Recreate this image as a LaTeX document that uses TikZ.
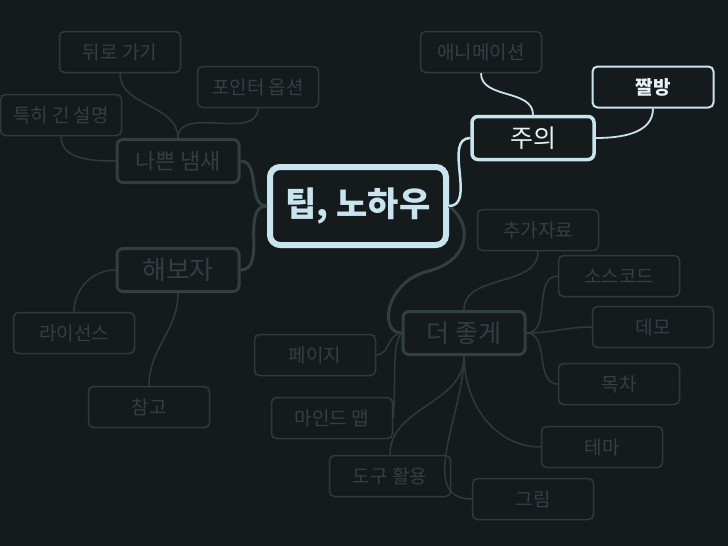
\documentclass[tikz,border=0pt]{standalone}
\usepackage{fontspec}
\setmainfont{Noto Sans CJK KR}
\usepackage{xcolor}
\usetikzlibrary{calc}
\definecolor{mapBg}{RGB}{21,27,28}
\definecolor{mapGray}{RGB}{46,59,61}
\definecolor{mapGrayText}{RGB}{50,64,67}
\definecolor{mapTopic}{RGB}{49,63,66}
\definecolor{mapBlue}{RGB}{200,228,238}
\definecolor{mapWhite}{RGB}{232,240,243}

\begin{document}
\begin{tikzpicture}[x=1pt, y=-1pt,
    leafbox/.style={draw=mapGray, line width=1.5pt, rounded corners=5pt, fill=mapBg, text=mapGrayText,
        minimum width=121pt, minimum height=41pt, inner sep=0pt, font=\fontsize{19}{22}\selectfont},
    topicbox/.style={draw=mapTopic, line width=3pt, rounded corners=6pt, fill=mapBg, text=mapTopic,
        minimum width=122pt, minimum height=43pt, inner sep=0pt, font=\fontsize{25}{29}\selectfont},
    hotbox/.style={topicbox, draw=mapBlue, line width=3.5pt, text=mapWhite},
    hotleaf/.style={leafbox, draw=mapBlue, line width=2pt, text=mapWhite, font=\fontsize{19}{22}\selectfont\bfseries},
    rootbox/.style={draw=mapBlue, line width=6pt, rounded corners=10pt, fill=mapBg, text=mapBlue,
        minimum width=176pt, minimum height=78pt, inner sep=0pt, font=\fontsize{34}{40}\selectfont\bfseries},
    leafline/.style={draw=mapGray, line width=1.5pt},
    topicline/.style={draw=mapTopic, line width=3pt},
    hotline/.style={draw=mapBlue, line width=2.5pt}]
    \fill[mapBg] (0,0) rectangle (728,546);
    \useasboundingbox (0,0) rectangle (728,546);

    \node[rootbox] (root) at (358,206) {팁, 노하우};

    \node[topicbox] (bad) at (178,161) {\fontsize{22}{26}\selectfont 나쁜 냄새};
    \node[leafbox] (back) at (120,52) {뒤로 가기};
    \node[leafbox] (pointer) at (258,87) {포인터 옵션};
    \node[leafbox] (longdesc) at (61,115) {특히 긴 설명};

    \node[hotbox] (caution) at (533,138) {주의};
    \node[leafbox] (anim) at (481,52) {애니메이션};
    \node[hotleaf] (meme) at (653,87) {짤방};

    \node[topicbox] (try) at (178,270) {\fontsize{26}{30}\selectfont 해보자};
    \node[leafbox] (license) at (74,333) {라이선스};
    \node[leafbox] (refs) at (149,407) {참고};

    \node[topicbox] (better) at (464,333) {더 좋게};
    \node[leafbox] (extra) at (538,230) {추가자료};
    \node[leafbox] (source) at (619,276) {소스코드};
    \node[leafbox] (demo) at (653,327) {데모};
    \node[leafbox] (toc) at (619,384) {목차};
    \node[leafbox] (theme) at (602,447) {테마};
    \node[leafbox] (figure) at (533,499) {그림};
    \node[leafbox] (page) at (315,355) {페이지};
    \node[leafbox] (mindmap) at (332,418) {마인드 맵};
    \node[leafbox] (tools) at (390,476) {도구 활용};

    \draw[topicline] (root.east) .. controls +(25,19) and +(45,-10) .. (425,272)
        .. controls +(-41,13) and +(-22,0) .. (better.west);
    \draw[topicline] (root.west) to[out=180,in=0] (bad.east);
    \draw[topicline] (root.west) to[out=180,in=0] (try.east);
    \draw[hotline] (root.east) to[out=0,in=180] (caution.west);

    \draw[leafline] (bad.north) to[out=90,in=-90] (back.south);
    \draw[leafline] (bad.north) to[out=90,in=-90] (pointer.south);
    \draw[leafline] (bad.west) to[out=180,in=-90] (longdesc.south);
    \draw[hotline, line width=1.8pt] (caution.north) to[out=90,in=-90] (anim.south);
    \draw[hotline, line width=1.8pt] (caution.east) to[out=0,in=-90] (meme.south);
    \draw[leafline] (try.west) to[out=180,in=90] (license.north);
    \draw[leafline] (try.south) to[out=-90,in=90] (refs.north);

    \draw[leafline] (better.north) to[out=90,in=-90] (extra.south);
    \draw[leafline] (better.east) to[out=0,in=180] (source.west);
    \draw[leafline] (better.east) to[out=0,in=180] (demo.west);
    \draw[leafline] (better.east) to[out=0,in=180] (toc.west);
    \draw[leafline] (better.south) to[out=-90,in=180] (theme.west);
    \draw[leafline] (better.south) to[out=-90,in=180] (figure.west);
    \draw[leafline] (better.south) to[out=-90,in=90] (tools.north);
    \draw[leafline] (better.west) .. controls +(-10,12) and +(3,-40) .. (mindmap.east);
    \draw[leafline] (better.west) to[out=180,in=0] (page.east);
\end{tikzpicture}
\end{document}
